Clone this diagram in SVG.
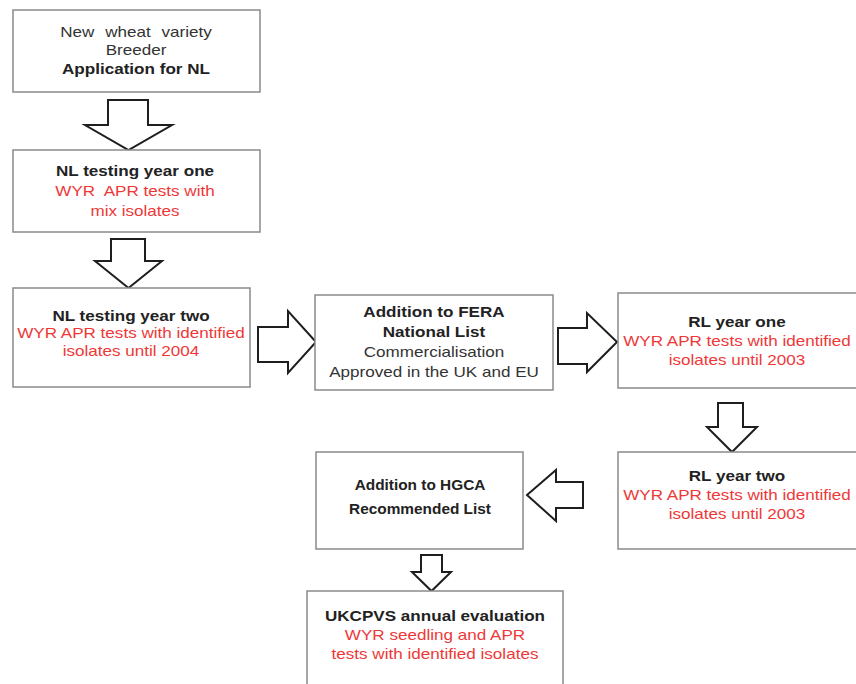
<svg xmlns="http://www.w3.org/2000/svg" width="856" height="684" viewBox="0 0 856 684">
  <style>
    .box { fill: #ffffff; stroke: #8a8a8a; stroke-width: 1.5; }
    .arrow { fill: #ffffff; stroke: #1e1e1e; stroke-width: 2; stroke-linejoin: miter; }
    text { font-family: "Liberation Sans", Arial, sans-serif; font-size: 14px; text-anchor: middle; }
    .b { font-weight: bold; fill: #222222; }
    .g { fill: #333333; }
    .r { fill: #ee3838; }
  </style>
  <rect width="856" height="684" fill="#ffffff"/>

  <!-- block arrows between the stages -->
  <g id="connectors">
    <polygon class="arrow" points="108,100 148,100 148,125 172,125 128.5,150 85,125 108,125"/>
    <polygon class="arrow" points="111,239 145,239 145,261 162,261 128.5,288 95,261 111,261"/>
    <polygon class="arrow" points="258,327 288,327 288,311 316,342 288,373 288,362 258,362"/>
    <polygon class="arrow" points="558,328 587,328 587,313 617,342 587,372 587,364 558,364"/>
    <polygon class="arrow" points="718,403 743,403 743,427 757,427 732,452 707,427 718,427"/>
    <polygon class="arrow" points="583,482 556,482 556,470 527,495 556,521 556,508 583,508"/>
    <polygon class="arrow" points="421,555 442,555 442,572 451,572 431.5,591 412,572 421,572"/>
  </g>

  <g id="application">
    <rect class="box" x="13" y="10" width="247" height="82"/>
    <g transform="translate(136 0) scale(1.22 1)">
      <text class="g" x="0" y="37" word-spacing="5">New wheat variety</text>
      <text class="g" x="0" y="55">Breeder</text>
      <text class="b" x="0" y="74">Application for NL</text>
    </g>
  </g>

  <g id="nl-year-one">
    <rect class="box" x="13" y="150" width="247" height="82"/>
    <g transform="translate(135 0) scale(1.22 1)">
      <text class="b" x="0" y="176">NL testing year one</text>
      <text class="r" x="0" y="196" xml:space="preserve">WYR  APR tests with</text>
      <text class="r" x="0" y="216">mix isolates</text>
    </g>
  </g>

  <g id="nl-year-two">
    <rect class="box" x="13" y="288" width="237" height="99"/>
    <g transform="translate(131 0) scale(1.22 1)">
      <text class="b" x="0" y="321">NL testing year two</text>
      <text class="r" x="0" y="338">WYR APR tests with identified</text>
      <text class="r" x="0" y="356">isolates until 2004</text>
    </g>
  </g>

  <g id="fera-national-list">
    <rect class="box" x="315" y="295" width="238" height="95"/>
    <g transform="translate(434 0) scale(1.22 1)">
      <text class="b" x="0" y="317">Addition to FERA</text>
      <text class="b" x="0" y="337">National List</text>
      <text class="g" x="0" y="357">Commercialisation</text>
      <text class="g" x="0" y="377">Approved in the UK and EU</text>
    </g>
  </g>

  <g id="rl-year-one">
    <rect class="box" x="618" y="293" width="240" height="95"/>
    <g transform="translate(737 0) scale(1.22 1)">
      <text class="b" x="0" y="327">RL year one</text>
      <text class="r" x="0" y="346">WYR APR tests with identified</text>
      <text class="r" x="0" y="365">isolates until 2003</text>
    </g>
  </g>

  <g id="rl-year-two">
    <rect class="box" x="618" y="452" width="240" height="97"/>
    <g transform="translate(737 0) scale(1.22 1)">
      <text class="b" x="0" y="481">RL year two</text>
      <text class="r" x="0" y="500">WYR APR tests with identified</text>
      <text class="r" x="0" y="519">isolates until 2003</text>
    </g>
  </g>

  <g id="hgca-recommended-list">
    <rect class="box" x="316" y="452" width="207" height="97"/>
    <g transform="translate(420 0) scale(1.1 1)">
      <text class="b" x="0" y="490">Addition to HGCA</text>
      <text class="b" x="0" y="514">Recommended List</text>
    </g>
  </g>

  <g id="ukcpvs-evaluation">
    <rect class="box" x="307" y="591" width="256" height="100"/>
    <g transform="translate(435 0) scale(1.22 1)">
      <text class="b" x="0" y="621">UKCPVS annual evaluation</text>
      <text class="r" x="0" y="640">WYR seedling and APR</text>
      <text class="r" x="0" y="659">tests with identified isolates</text>
    </g>
  </g>
</svg>
